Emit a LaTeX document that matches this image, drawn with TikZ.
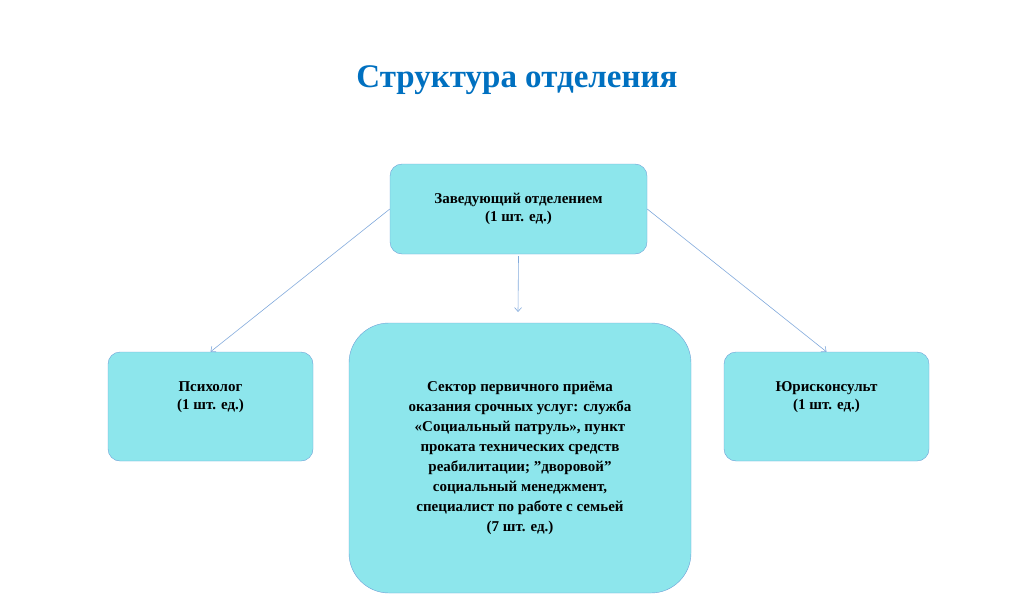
\documentclass[tikz,border=0pt]{standalone}
\usepackage{fontspec}
\setmainfont{Liberation Serif}
\usetikzlibrary{arrows.meta}
\definecolor{boxfill}{RGB}{141,230,236}
\definecolor{boxdraw}{RGB}{110,160,215}
\definecolor{titleblue}{RGB}{0,112,192}
\definecolor{linkc}{RGB}{130,170,220}
\tikzset{
 unitbox/.style={draw=boxdraw,fill=boxfill,rounded corners=12pt,align=center,font=\bfseries\fontsize{15}{18.5}\selectfont,inner sep=0pt},
 link/.style={draw=linkc,line width=0.6pt,-{Straight Barb[length=4pt,width=7pt]}}
}
\begin{document}
\begin{tikzpicture}[x=1pt,y=-1pt]
\useasboundingbox (0,0) rectangle (1024,610);
\node[font=\bfseries\fontsize{33}{38}\selectfont,text=titleblue] (title) at (517,80) {Структура отделения};
\node[unitbox,minimum width=257pt,minimum height=90pt] (top) at (518.5,209) {Заведующий отделением\\(1 шт. ед.)};
\node[unitbox,minimum width=205pt,minimum height=109pt] (left) at (210.5,406.5) {};
\node[font=\bfseries\fontsize{15}{18.5}\selectfont,align=center] at (210.5,397) {Психолог\\(1 шт. ед.)};
\node[unitbox,minimum width=205pt,minimum height=109pt] (right) at (826.5,406.5) {};
\node[font=\bfseries\fontsize{15}{18.5}\selectfont,align=center] at (826.5,397) {Юрисконсульт\\(1 шт. ед.)};
\node[unitbox,rounded corners=40pt,minimum width=342pt,minimum height=270pt] (mid) at (520,458) {};
\node[font=\bfseries\fontsize{15}{20}\selectfont,align=center] at (520,458) {Сектор первичного приёма\\оказания срочных услуг: служба\\«Социальный патруль», пункт\\проката технических средств\\реабилитации; \symbol{34}дворовой\symbol{34}\\социальный менеджмент,\\специалист по работе с семьей\\(7 шт. ед.)};
\coordinate (midtip) at (518,312);
\draw[link] (top.west) -- (left.north);
\draw[link] (top.east) -- (right.north);
\draw[link] (top.south) ++(0,2) -- (midtip);
\end{tikzpicture}
\end{document}
